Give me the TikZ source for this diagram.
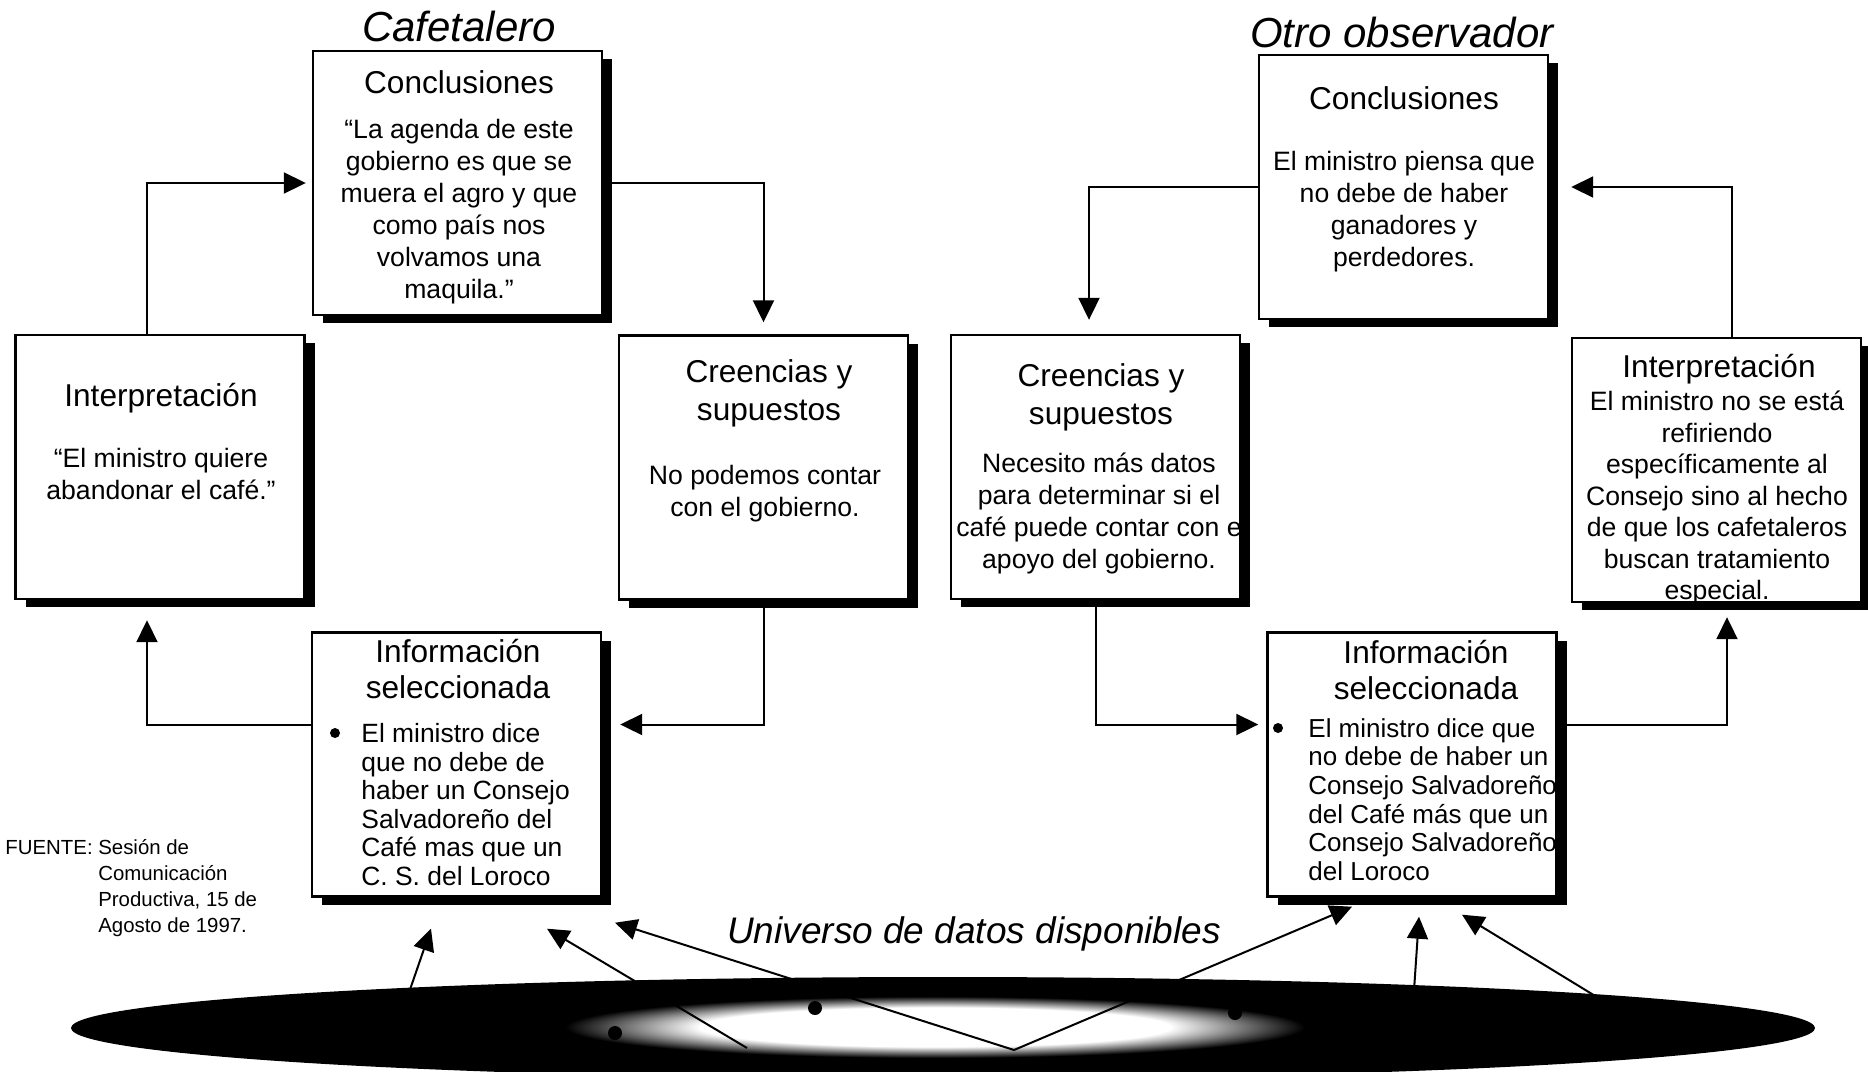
\documentclass[tikz,border=0pt]{standalone}
\usepackage{fontspec}
\setmainfont{Liberation Sans}
\usetikzlibrary{arrows.meta,shadows}
\pgfdeclareradialshading{glow}{\pgfpoint{0bp}{0bp}}{color(0bp)=(white); color(14bp)=(white); color(22bp)=(black); color(25bp)=(black); color(50bp)=(black)}

\begin{document}
\begin{tikzpicture}[x=0.5pt,y=-0.5pt,
  box/.style={draw=black,line width=1.2pt,fill=white,minimum width=144.5pt,minimum height=132pt,inner sep=0pt,
    drop shadow={shadow xshift=5pt,shadow yshift=-4pt,opacity=1,fill=black}},
  ttl/.style={font=\fontsize{15.8}{19}\selectfont,align=center,inner sep=0pt},
  txt/.style={font=\fontsize{13.3}{16}\selectfont,align=center,inner sep=0pt},
  lst/.style={font=\fontsize{13.2}{14.3}\selectfont,align=left,anchor=west,inner sep=0pt},
  dot/.style={circle,fill=black,inner sep=0pt,minimum size=5pt},
  head/.style={font=\fontsize{21}{25}\selectfont\itshape,inner sep=0pt},
  flow/.style={-{Triangle[length=11pt,width=10.5pt]},line width=1pt}]
\useasboundingbox (0,0) rectangle (1868,1071);

\begin{scope}
\clip (0,0) rectangle (1868,1071);
\fill[black] (943,1028) ellipse [x radius=872, y radius=51];
\shade[shading=glow] (935,1027) ellipse [x radius=420, y radius=35];
\end{scope}
\fill (815,1008) circle [radius=7];
\fill (615,1033) circle [radius=7];
\fill (1235,1013) circle [radius=7];

\node[head] (cafT) at (459,26) {Cafetalero};
\node[head] (otroT) at (1402,32) {Otro observador};
\node[head,font=\fontsize{18.5}{22}\selectfont\itshape] (univT) at (974,934) {Universo de datos disponibles};

% Cafetalero
\node[box] (conclL) at (457.5,183) {};
\node[box] (interpL) at (160,467) {};
\node[box] (creL) at (763.5,467.5) {};
\node[box] (infoL) at (456.5,764.5) {};
\node[ttl] (conclLt) at (459,82) {Conclusiones};
\node[txt] (conclLb) at (459,212) {“La agenda de este\\gobierno es que se\\muera el agro y que\\como país nos\\volvamos una\\maquila.”};
\node[ttl] (interpLt) at (161,398) {Interpretación};
\node[txt] (interpLb) at (161,473.5) {“El ministro quiere\\abandonar el café.”};
\node[ttl] (creLt) at (769,393) {Creencias y\\supuestos};
\node[txt] (creLb) at (765,494) {No podemos contar\\con el gobierno.};
\node[ttl,font=\fontsize{15.8}{18}\selectfont] (infoLt) at (458,669.5) {Información\\seleccionada};
\node[dot] (infoLd) at (335,733) {};
\node[lst] (infoLb) at (361,804.5) {El ministro dice\\que no debe de\\haber un Consejo\\Salvadoreño del\\Café mas que un\\C. S. del Loroco};

% Otro observador
\node[box] (conclR) at (1403.5,187) {};
\node[box] (creR) at (1095.5,467) {};
\node[box] (interpR) at (1716.5,470) {};
\node[box] (infoR) at (1412,764.5) {};
\node[ttl] (conclRt) at (1404,98) {Conclusiones};
\node[txt] (conclRb) at (1404,212) {El ministro piensa que\\no debe de haber\\ganadores y\\perdedores.};
\node[ttl] (creRt) at (1101,397) {Creencias y\\supuestos};
\node[txt] (creRb) at (1099,513.5) {Necesito más datos\\para determinar si el\\café puede contar con e\\apoyo del gobierno.};
\node[ttl] (interpRt) at (1719,369) {Interpretación};
\node[txt,font=\fontsize{13.3}{15.75}\selectfont] (interpRb) at (1717,498) {El ministro no se está\\refiriendo\\específicamente al\\Consejo sino al hecho\\de que los cafetaleros\\buscan tratamiento\\especial.};
\node[ttl,font=\fontsize{15.8}{18}\selectfont] (infoRt) at (1426,670) {Información\\seleccionada};
\node[dot] (infoRd) at (1278,728) {};
\node[lst,font=\fontsize{13}{14.3}\selectfont] (infoRb) at (1308,799.5) {El ministro dice que\\no debe de haber un\\Consejo Salvadoreño\\del Café más que un\\Consejo Salvadoreño\\del Loroco};

\node[anchor=west,inner sep=0pt,font=\fontsize{10.2}{13}\selectfont] (srcT) at (5,888)
  {\begin{tabular}{@{}l@{ }l@{}}FUENTE:&Sesión de\\&Comunicación\\&Productiva, 15 de\\&Agosto de 1997.\end{tabular}};

\draw[flow] ([xshift=-6.5pt]interpL.north) |- ([xshift=-3pt]conclL.west);
\draw[flow] (conclL.east) -| ([yshift=6pt]creL.north);
\draw[flow] (creL.south) |- ([xshift=9pt,yshift=20pt]infoL.east);
\draw[flow] ([yshift=20pt]infoL.west) -| ([xshift=-6.5pt,yshift=-10pt]interpL.south);

\draw[flow] (conclR.west) -| ([xshift=-3.25pt,yshift=7pt]creR.north);
\draw[flow] ([xshift=7.75pt]interpR.north) |- ([xshift=11pt]conclR.east);
\draw[flow] (creR.south) |- ([xshift=-4pt,yshift=20pt]infoR.west);
\draw[flow] ([yshift=20pt]infoR.east) -| ([xshift=5.25pt,yshift=-7pt]interpR.south);

\coordinate (dI) at (404,1007);
\coordinate (dJ) at (747,1048);
\coordinate (vtx) at (1014,1050);
\coordinate (dM) at (1413,1005);
\coordinate (dN) at (1610,1005);
\draw[flow] (dI) -- ([shift={(-25.5,31)}]infoL.south);
\draw[flow] (dJ) -- ([shift={(90.5,31)}]infoL.south);
\draw[flow] (vtx) -- ([shift={(158.5,25)}]infoL.south);
\draw[flow] (vtx) -- ([shift={(-60,9)}]infoR.south);
\draw[flow] (dM) -- ([shift={(7,19)}]infoR.south);
\draw[flow] (dN) -- ([shift={(50,17)}]infoR.south);
\end{tikzpicture}
\end{document}
